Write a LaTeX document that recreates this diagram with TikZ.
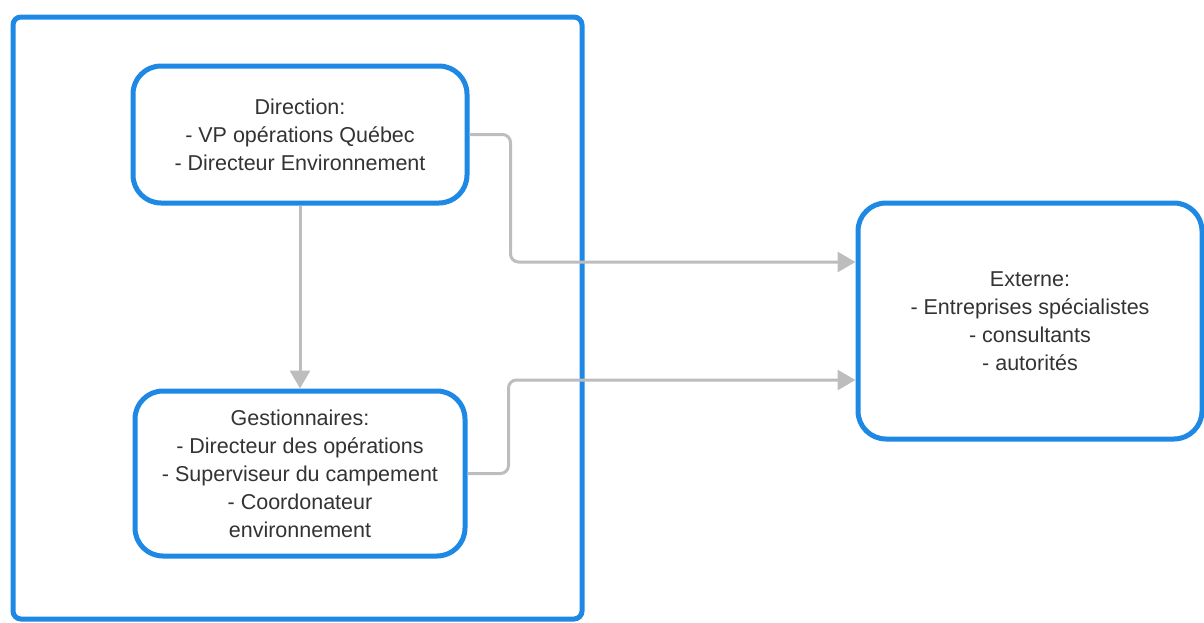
\documentclass[tikz,border=0pt]{standalone}
\usepackage{fontspec}
\setmainfont{Liberation Sans}
\usetikzlibrary{arrows.meta}
\definecolor{bleu}{HTML}{1E88E5}
\definecolor{gris}{HTML}{BDBDBD}
\definecolor{texte}{HTML}{333333}
\tikzset{
	cadre/.style={draw=bleu, line width=5pt, rounded corners=8pt, inner sep=0pt},
	bloc/.style={draw=bleu, line width=5pt, rounded corners=28pt, fill=white, inner sep=0pt,
		align=center, text=texte, font=\fontsize{21.5}{28}\selectfont},
	lien/.style={draw=gris, line width=3pt, rounded corners=8pt, -{Triangle[length=18pt,width=20pt]}}
}
\begin{document}
\begin{tikzpicture}[x=1pt, y=-1pt]
	\useasboundingbox (0,0) rectangle (1204,622);
	\node[cadre, minimum width=569pt, minimum height=602pt] (site) at (297.5,318) {};
	\node[bloc, minimum width=334pt, minimum height=137pt] (dir)  at (300,134.5)
		{Direction:\\- VP opérations Québec\\- Directeur Environnement};
	\node[bloc, minimum width=330pt, minimum height=165pt] (gest) at (300,473.5)
		{Gestionnaires:\\- Directeur des opérations\\- Superviseur du campement\\- Coordonateur\\environnement};
	\node[bloc, minimum width=344pt, minimum height=236pt] (ext)  at (1030,321)
		{Externe:\\- Entreprises spécialistes\\- consultants\\- autorités};
	\draw[lien] (dir.south) -- (gest.north);
	\draw[lien] (dir.east) -- ++(41,0) |- ([yshift=59pt]ext.west);
	\draw[lien] (gest.east) -- ++(41,0) |- ([yshift=-59pt]ext.west);
\end{tikzpicture}
\end{document}
